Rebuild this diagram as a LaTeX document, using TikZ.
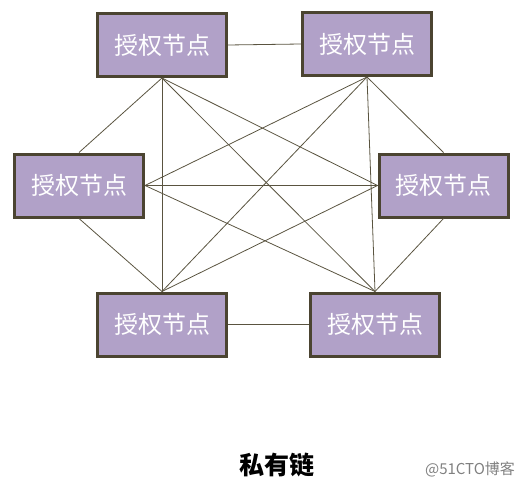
\documentclass[tikz,border=0pt]{standalone}
\usepackage{fontspec}
\newfontfamily\cjk{Noto Sans CJK SC}
\definecolor{nodefill}{HTML}{B1A1C8}
\definecolor{nodeline}{HTML}{4B4431}
\definecolor{linkline}{HTML}{5A5440}
\tikzset{
	authnode/.style={draw=nodeline,line width=3pt,fill=nodefill,minimum width=129pt,minimum height=63pt,inner sep=0pt,text=white,font=\cjk\fontsize{24}{24}\selectfont},
	link/.style={draw=linkline,line width=0.8pt}
}
\begin{document}
\begin{tikzpicture}[x=1pt,y=-1pt]
			\useasboundingbox (0,0) rectangle (529,489);
			\node[authnode] (tl) at (162,45) {授权节点};
			\node[authnode] (tr) at (367,44) {授权节点};
			\node[authnode] (ml) at (79,185.5) {授权节点};
			\node[authnode] (mr) at (443.5,185.5) {授权节点};
			\node[authnode] (bl) at (162,324.5) {授权节点};
			\node[authnode] (br) at (375,324.5) {授权节点};
			\draw[link] (tl.east) -- (tr.west);
			\draw[link] (tl.south) -- (ml.north);
			\draw[link] (tl.south) -- (mr.west);
			\draw[link] (tl.south) -- (bl.north);
			\draw[link] (tl.south) -- (br.north);
			\draw[link] (tr.south) -- (ml.east);
			\draw[link] (tr.south) -- (mr.north);
			\draw[link] (tr.south) -- (bl.north);
			\draw[link] (tr.south) -- (br.north);
			\draw[link] (ml.east) -- (mr.west);
			\draw[link] (ml.east) -- (br.north);
			\draw[link] (ml.south) -- (bl.north);
			\draw[link] (mr.west) -- (bl.north);
			\draw[link] (mr.south) -- (br.north);
			\draw[link] (bl.east) -- (br.west);
			\node[font=\cjk\bfseries\fontsize{25}{25}\selectfont] (title) at (277,465) {私有链};
			\node[font=\cjk\fontsize{15}{15}\selectfont,text=black!50] (mark) at (470,469) {@51CTO博客};
		\end{tikzpicture}
\end{document}
